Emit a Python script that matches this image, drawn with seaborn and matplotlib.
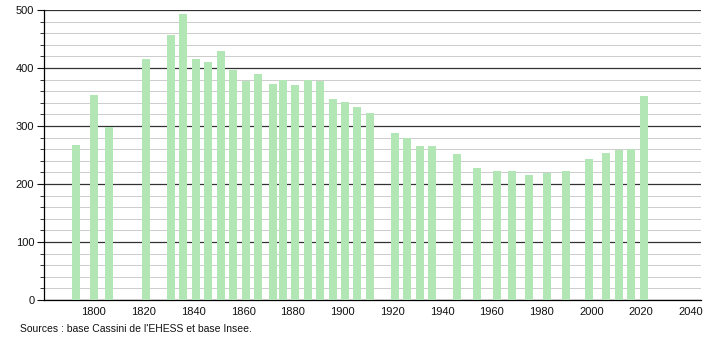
import matplotlib
matplotlib.use("Agg")
import matplotlib.pyplot as plt
import seaborn as sns
import pandas as pd
from matplotlib.ticker import MultipleLocator

years = [1793, 1800, 1806, 1821, 1831, 1836, 1841, 1846, 1851, 1856,
         1861, 1866, 1872, 1876, 1881, 1886, 1891, 1896, 1901, 1906,
         1911, 1921, 1926, 1931, 1936, 1946, 1954, 1962, 1968, 1975,
         1982, 1990, 1999, 2006, 2011, 2016, 2021]
population = [267, 354, 299, 415, 457, 493, 415, 410, 430, 397,
              377, 389, 372, 380, 370, 380, 377, 346, 342, 332,
              323, 288, 279, 266, 266, 252, 228, 223, 223, 216,
              219, 223, 243, 254, 258, 261, 351]
x_ticks = [1800, 1820, 1840, 1860, 1880, 1900, 1920, 1940, 1960, 1980, 2000, 2020, 2040]
source_text = "Sources : base Cassini de l'EHESS et base Insee."

sns.set_style("white")
plt.rcParams['font.family'] = ['Liberation Sans', 'DejaVu Sans']

df = pd.DataFrame({"year": years, "pop": population})

fig = plt.figure(figsize=(7.1, 3.4), dpi=100)
ax = fig.add_axes([0.062, 0.1176, 0.925, 0.853])

sns.barplot(data=df, x="year", y="pop", native_scale=True, width=0.8,
            color="#b2e6b4", saturation=1, ax=ax, zorder=3, errorbar=None,
            linewidth=0, edgecolor="none")

ax.set_xlim(1780, 2044)
ax.set_ylim(0, 500)
ax.set_xticks(x_ticks)
ax.set_xticklabels([str(t) for t in x_ticks])
ax.yaxis.set_major_locator(MultipleLocator(100))
ax.yaxis.set_minor_locator(MultipleLocator(20))
ax.grid(which="major", axis="y", color="#333333", linewidth=0.9, zorder=0)
ax.grid(which="minor", axis="y", color="#cccccc", linewidth=0.7, zorder=0)
ax.set_axisbelow(True)
ax.set_xlabel("")
ax.set_ylabel("")

for side in ["top", "right"]:
    ax.spines[side].set_visible(False)
ax.spines["left"].set_color("black")
ax.spines["bottom"].set_color("black")
ax.spines["left"].set_linewidth(0.9)
ax.spines["bottom"].set_linewidth(0.9)

ax.tick_params(axis="x", length=0, labelsize=8, pad=5, colors="#111111")
ax.tick_params(axis="y", which="major", length=5, width=0.8, labelsize=8, pad=2, colors="#111111", left=True)
ax.tick_params(axis="y", which="minor", length=3, width=0.6, left=True, colors="#111111")

fig.text(0.028, 0.025, source_text, fontsize=7.5, color="#111111")

fig.savefig("out.png", dpi=100)
